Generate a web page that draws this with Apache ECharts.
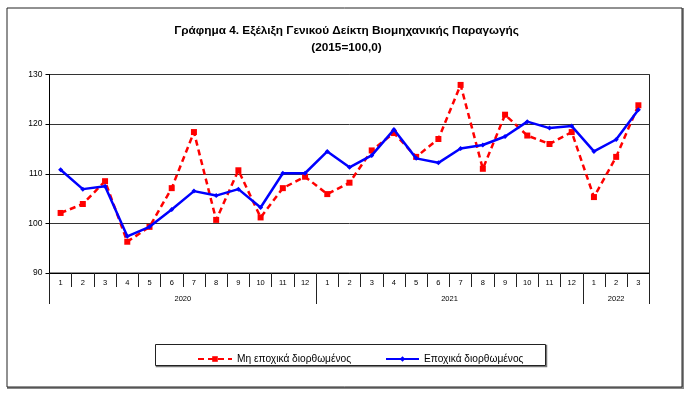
<!DOCTYPE html>
<html>
<head>
<meta charset="utf-8">
<script src="https://cdn.jsdelivr.net/npm/echarts@6/dist/echarts.min.js"></script>
<style>html,body{margin:0;padding:0;background:#fff}#c{width:693px;height:394px}</style>
</head>
<body>
<div id="c"></div>
<script>
var months = ['1','2','3','4','5','6','7','8','9','10','11','12','1','2','3','4','5','6','7','8','9','10','11','12','1','2','3'];
var years = ['2020','2021','2022'];
var monthsPerYear = [12, 12, 3];
var nonAdjusted = [102.1,103.9,108.5,96.3,99.3,107.1,118.4,100.7,110.7,101.2,107.1,109.4,
                   105.9,108.2,114.7,118.2,113.4,117.0,127.9,111.0,121.9,117.7,116.0,118.4,
                   105.3,113.4,123.8];
var adjusted = [110.8,106.9,107.5,97.4,99.3,102.8,106.5,105.6,106.9,103.2,110.1,110.1,
                114.5,111.3,113.7,118.9,113.1,112.2,115.1,115.8,117.5,120.5,119.2,119.6,
                114.5,116.9,122.9];
var yTicks = [90,100,110,120,130];
var seriesNames = ['Μη εποχικά διορθωμένος','Εποχικά διορθωμένος'];
var titleLines = ['Γράφημα 4. Εξέλιξη Γενικού Δείκτη Βιομηχανικής Παραγωγής','(2015=100,0)'];

// year boundaries and centres (in month units)
var bounds = [0], centres = [];
var acc = 0;
monthsPerYear.forEach(function(n){ centres.push(acc + n/2); acc += n; bounds.push(acc); });

var FONT = 'Liberation Sans';
var chart = echarts.init(document.getElementById('c'));
chart.setOption({
  animation: false,
  textStyle: {fontFamily: FONT},
  title: {
    text: titleLines.join('\n'),
    left: 'center', top: 17,
    textStyle: {fontSize: 11.8, fontWeight: 'bold', color: '#000', lineHeight: 17, fontFamily: FONT}
  },
  graphic: [
    {type: 'rect', shape: {x: 8, y: 9, width: 675, height: 379}, style: {fill: 'none', stroke: '#888', lineWidth: 2}, z: -1},
    {type: 'rect', shape: {x: 7, y: 8, width: 675, height: 379}, style: {fill: '#fff', stroke: '#222', lineWidth: 1}, z: -1},
    {type: 'rect', shape: {x: 156.5, y: 345.5, width: 390, height: 21}, style: {fill: 'none', stroke: '#777', lineWidth: 1.5}},
    {type: 'rect', shape: {x: 155.5, y: 344.5, width: 390, height: 21}, style: {fill: '#fff', stroke: '#222', lineWidth: 1}, z: 0}
  ],
  legend: [
    {data: [seriesNames[0]], left: 192, top: 349, itemWidth: 34, itemHeight: 7, itemGap: 0,
     textStyle: {fontSize: 10.2, color: '#000', fontFamily: FONT}, z: 5},
    {data: [seriesNames[1]], left: 380, top: 349, itemWidth: 33, itemHeight: 7, itemGap: 0,
     textStyle: {fontSize: 10.2, color: '#000', fontFamily: FONT}, z: 5}
  ],
  grid: {left: 49.5, right: 43.5, top: 74.5, bottom: 121, show: true, borderColor: '#222', borderWidth: 1, backgroundColor: 'transparent'},
  xAxis: [
    {
      type: 'category', data: months, boundaryGap: true,
      axisLine: {lineStyle: {color: '#000', width: 1}},
      axisTick: {show: true, interval: 0, length: 14, lineStyle: {color: '#222'}},
      axisLabel: {interval: 0, fontSize: 7.5, color: '#000', margin: 6}
    },
    {
      type: 'value', min: 0, max: bounds[bounds.length-1], position: 'bottom',
      axisLine: {show: false},
      splitLine: {show: false},
      axisTick: {show: true, customValues: bounds, length: 31, lineStyle: {color: '#222'}},
      axisLabel: {customValues: centres, fontSize: 7.5, color: '#000', margin: 22,
        formatter: function(v){ var i = centres.indexOf(v); return i >= 0 ? years[i] : ''; }}
    }
  ],
  yAxis: {
    type: 'value', min: yTicks[0], max: yTicks[yTicks.length-1], interval: 10,
    axisLine: {show: true, lineStyle: {color: '#000'}},
    axisTick: {show: true, length: 4, lineStyle: {color: '#000'}},
    axisLabel: {fontSize: 8.5, color: '#000', margin: 7},
    splitLine: {show: true, lineStyle: {color: '#333', width: 1}}
  },
  series: [
    {
      name: seriesNames[0], type: 'line', data: nonAdjusted, xAxisIndex: 0,
      symbol: 'rect', symbolSize: 6,
      itemStyle: {color: '#ff0000'},
      lineStyle: {color: '#ff0000', width: 2.5, type: [6, 4]},
      z: 3
    },
    {
      name: seriesNames[1], type: 'line', data: adjusted, xAxisIndex: 0,
      symbol: 'diamond', symbolSize: 5,
      itemStyle: {color: '#0000ff'},
      lineStyle: {color: '#0000ff', width: 2.5},
      z: 4
    }
  ]
});
</script>
</body>
</html>
